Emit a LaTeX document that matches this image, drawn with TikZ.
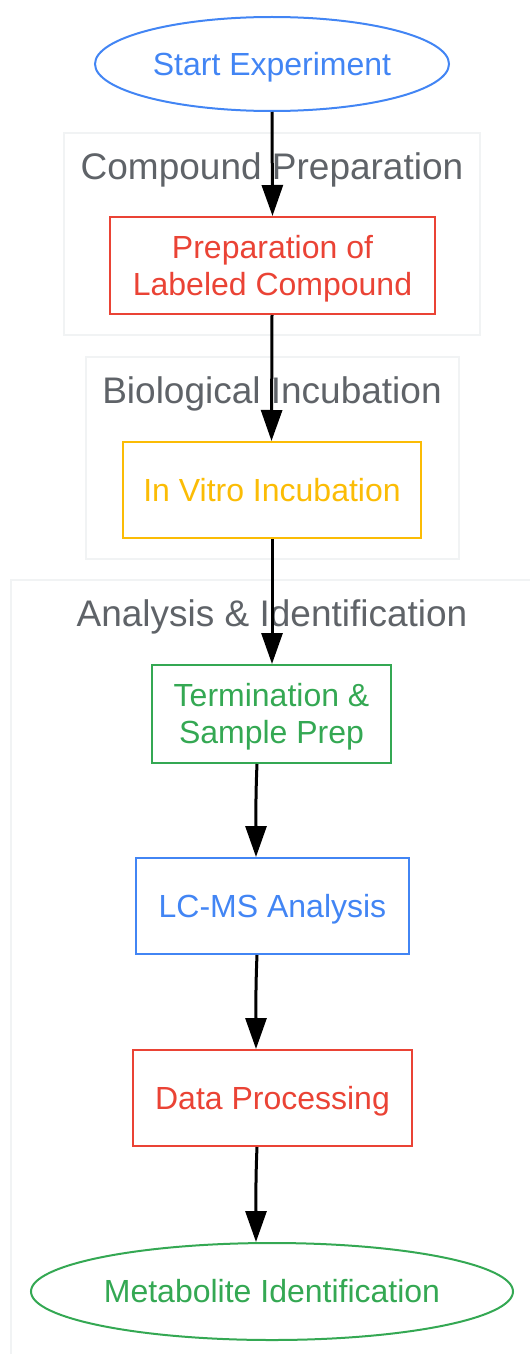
\documentclass[tikz,border=0pt]{standalone}
\usepackage{fontspec}
\setmainfont{Liberation Sans}
\usetikzlibrary{shapes.geometric,arrows.meta,calc}
\definecolor{gblue}{HTML}{4285F4}
\definecolor{gred}{HTML}{EA4335}
\definecolor{gyellow}{HTML}{FBBC05}
\definecolor{ggreen}{HTML}{34A853}
\definecolor{cgray}{HTML}{5F6368}
\definecolor{cborder}{HTML}{F1F3F4}
\newcommand{\lbltext}[1]{\raisebox{0pt}[\dimexpr\height+1.9pt\relax][\dimexpr\depth-1.9pt\relax]{\begin{tabular}{@{}c@{}}#1\end{tabular}}}
\tikzset{
  box/.style={draw, rectangle, line width=1pt, font=\fontsize{16}{18.7}\selectfont, inner sep=0pt},
  oval/.style={draw, ellipse, line width=1pt, font=\fontsize{16}{18.7}\selectfont, inner sep=0pt},
  clusterbox/.style={draw=cborder, line width=1pt},
  clusterlabel/.style={text=cgray, font=\fontsize{18.5}{22}\selectfont, anchor=base, inner sep=0pt},
  arr/.style={draw=black, line width=1.5pt, -{Triangle[length=15.5pt,width=10.5pt]}}
}
\begin{document}
\begin{tikzpicture}[x=0.5pt,y=-0.5pt]
\useasboundingbox (0,0) rectangle (530,1354);
% clusters
\draw[clusterbox] (64,133) rectangle (480,335);
\draw[clusterbox] (86,357) rectangle (459,559);
\draw[clusterbox] (530,580) -- (11,580) -- (11,1354);
\node[clusterlabel] (lcomp) at (272,179) {Compound Preparation};
\node[clusterlabel] (lbio) at (272,403) {Biological Incubation};
\node[clusterlabel] (lana) at (272,626) {Analysis \& Identification};
% nodes
\node[oval, draw=gblue, text=gblue, minimum width=177pt, minimum height=47pt] (start) at (272,64) {\lbltext{Start Experiment}};
\node[box, draw=gred, text=gred, minimum width=162.5pt, minimum height=48.5pt] (prep) at (272.5,265.5) {\lbltext{Preparation of\\Labeled Compound}};
\node[box, draw=gyellow, text=gyellow, minimum width=149pt, minimum height=48pt] (vitro) at (272,490) {\lbltext{In Vitro Incubation}};
\node[box, draw=ggreen, text=ggreen, minimum width=119.5pt, minimum height=49pt] (term) at (271.5,714) {\lbltext{Termination \&\\Sample Prep}};
\node[box, draw=gblue, text=gblue, minimum width=136.5pt, minimum height=48pt] (lcms) at (272.5,906) {\lbltext{LC-MS Analysis}};
\node[box, draw=gred, text=gred, minimum width=139.5pt, minimum height=48pt] (data) at (272.5,1098) {\lbltext{Data Processing}};
\node[oval, draw=ggreen, text=ggreen, minimum width=241pt, minimum height=48.5pt] (metab) at (272,1291.5) {\lbltext{Metabolite Identification}};
% edges
\draw[arr] (start.south) -- (prep.north);
\draw[arr] ([xshift=-0.25pt]prep.south) -- ([xshift=-0.25pt]vitro.north);
\draw[arr] (vitro.south) -- (vitro.south |- term.north);
\draw[arr] ([xshift=-7.25pt]term.south) .. controls +(-1.5,35) and +(0,-40) .. ([xshift=-8.25pt]lcms.north);
\draw[arr] ([xshift=-7.75pt]lcms.south) .. controls +(-1.5,35) and +(0,-40) .. ([xshift=-8.25pt]data.north);
\draw[arr] ([xshift=-7.75pt]data.south) .. controls +(-1.5,35) and +(0,-40) .. ([xshift=-8pt]metab.north);
\end{tikzpicture}
\end{document}
